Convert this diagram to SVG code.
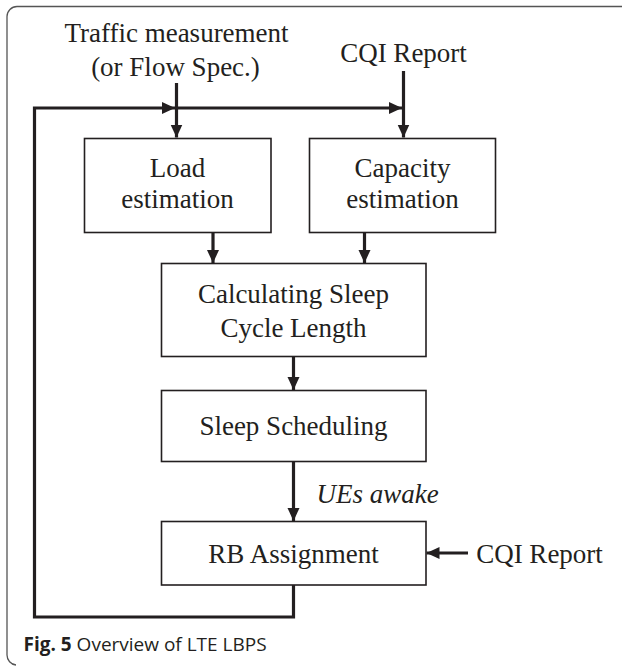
<svg xmlns="http://www.w3.org/2000/svg" width="625" height="666" viewBox="0 0 625 666">
<style>
.box{fill:#fff;stroke:#231f20;stroke-width:1.6}
.t{font-family:"Liberation Serif","Times New Roman",serif;font-size:27px;fill:#231f20;text-anchor:middle}
.ti{font-family:"Liberation Serif","Times New Roman",serif;font-size:27px;font-style:italic;fill:#231f20}
.w{fill:none;stroke:#231f20;stroke-width:3.2}
.cap{font-family:"Open Sans","Noto Sans",sans-serif;font-size:19px;fill:#231f20}
</style>
<defs>
<marker id="ah" markerUnits="userSpaceOnUse" markerWidth="14" markerHeight="14" viewBox="0 0 14 14" refX="13" refY="7" orient="auto">
<path d="M0,1 L13,7 L0,13 Z" fill="#231f20"/>
</marker>
</defs>
<path id="frame" d="M622,6.5 H17 A10,10 0 0 0 7,16.5 V655 A10,10 0 0 0 16,665" fill="none" stroke="#555" stroke-width="1.3"/>
<g id="connectors">
<path class="w" d="M293.5,585 V617 H34.5 V108 H175" marker-end="url(#ah)"/>
<path class="w" d="M176.5,108 H402" marker-end="url(#ah)"/>
<path class="w" d="M176.5,83 V137.5" marker-end="url(#ah)"/>
<path class="w" d="M403.5,71 V137.5" marker-end="url(#ah)"/>
<path class="w" d="M213,232.5 V263" marker-end="url(#ah)"/>
<path class="w" d="M364.5,232.5 V263" marker-end="url(#ah)"/>
<path class="w" d="M293.5,356.5 V390" marker-end="url(#ah)"/>
<path class="w" d="M293.5,461.5 V521" marker-end="url(#ah)"/>
<path class="w" d="M468,553 H426.5" marker-end="url(#ah)"/>
</g>
<g id="traffic-input">
<text class="t" x="176.5" y="42">Traffic measurement</text>
<text class="t" x="175.5" y="76">(or Flow Spec.)</text>
</g>
<g id="cqi-top">
<text class="t" x="403.5" y="61.5">CQI Report</text>
</g>
<g id="load">
<rect class="box" x="84.5" y="138.5" width="186.5" height="94"/>
<text class="t" x="177.5" y="177">Load</text>
<text class="t" x="177.5" y="208">estimation</text>
</g>
<g id="capacity">
<rect class="box" x="309.5" y="138.5" width="186" height="94"/>
<text class="t" x="402.5" y="177">Capacity</text>
<text class="t" x="402.5" y="208">estimation</text>
</g>
<g id="calc">
<rect class="box" x="161.5" y="263.5" width="264.5" height="93"/>
<text class="t" x="293.5" y="302.5">Calculating Sleep</text>
<text class="t" x="293.5" y="336.5">Cycle Length</text>
</g>
<g id="sleep">
<rect class="box" x="161.5" y="390.5" width="264.5" height="71"/>
<text class="t" x="293.5" y="435">Sleep Scheduling</text>
</g>
<g id="ues-label">
<text class="ti" x="316.5" y="502.5">UEs awake</text>
</g>
<g id="rb">
<rect class="box" x="161.5" y="521.5" width="264.5" height="63.5"/>
<text class="t" x="293.5" y="562.5">RB Assignment</text>
</g>
<g id="cqi-right">
<text class="t" x="539.5" y="562.5">CQI Report</text>
</g>
<text class="cap" x="23.5" y="651"><tspan font-weight="bold">Fig. 5</tspan> Overview of LTE LBPS</text>
</svg>
